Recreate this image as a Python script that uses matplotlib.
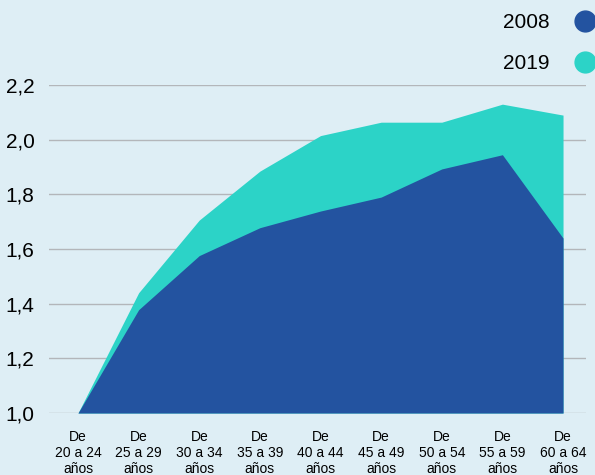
import matplotlib
matplotlib.use("Agg")
import matplotlib.pyplot as plt
from matplotlib.lines import Line2D

categories = ["De\n20 a 24\naños", "De\n25 a 29\naños", "De\n30 a 34\naños",
              "De\n35 a 39\naños", "De\n40 a 44\naños", "De\n45 a 49\naños",
              "De\n50 a 54\naños", "De\n55 a 59\naños", "De\n60 a 64\naños"]
values_2008 = [1.0, 1.378, 1.576, 1.678, 1.739, 1.79, 1.893, 1.945, 1.64]
values_2019 = [1.0, 1.44, 1.706, 1.885, 2.015, 2.064, 2.064, 2.13, 2.09]
yticks = [1.0, 1.2, 1.4, 1.6, 1.8, 2.0, 2.2]
ytick_labels = ["1,0", "1,2", "1,4", "1,6", "1,8", "2,0", "2,2"]

bg = "#deeef5"
c2008 = "#2353a0"
c2019 = "#2cd3c7"

plt.rcParams["font.family"] = ["Liberation Sans", "DejaVu Sans"]

fig = plt.figure(figsize=(5.95, 4.75), dpi=100, facecolor=bg)
ax = fig.add_axes([0.0824, 0.1305, 0.9026, 0.6905])
ax.set_facecolor(bg)

x = list(range(len(categories)))
ax.fill_between(x, 1.0, values_2019, color=c2019, linewidth=0, zorder=2)
ax.fill_between(x, 1.0, values_2008, color=c2008, linewidth=0, zorder=3)

ax.set_xlim(-0.478, 8.38)
ax.set_ylim(1.0, 2.2)
ax.set_yticks(yticks)
ax.set_yticklabels(ytick_labels, fontsize=15)
ax.set_xticks(x)
ax.set_xticklabels(categories, fontsize=10, linespacing=1.2)
ax.tick_params(axis="both", length=0)
ax.tick_params(axis="y", pad=10.5)
ax.tick_params(axis="x", pad=12)
ax.grid(axis="y", color="#b3b6ba", linewidth=1.0, zorder=1)
ax.set_axisbelow(True)
for s in ax.spines.values():
    s.set_visible(False)

handles = [Line2D([], [], linestyle="none", marker="o", markersize=15,
                  markerfacecolor=c, markeredgecolor=c) for c in (c2008, c2019)]
fig.legend(handles, ["2008", "2019"], loc="upper right",
           bbox_to_anchor=(1.0, 1 - 13 / 475), frameon=False, fontsize=15,
           markerfirst=False, handlelength=1.0, handletextpad=1.2,
           labelspacing=1.05, borderpad=0, borderaxespad=0)

fig.savefig("out.png", dpi=100, facecolor=bg)
